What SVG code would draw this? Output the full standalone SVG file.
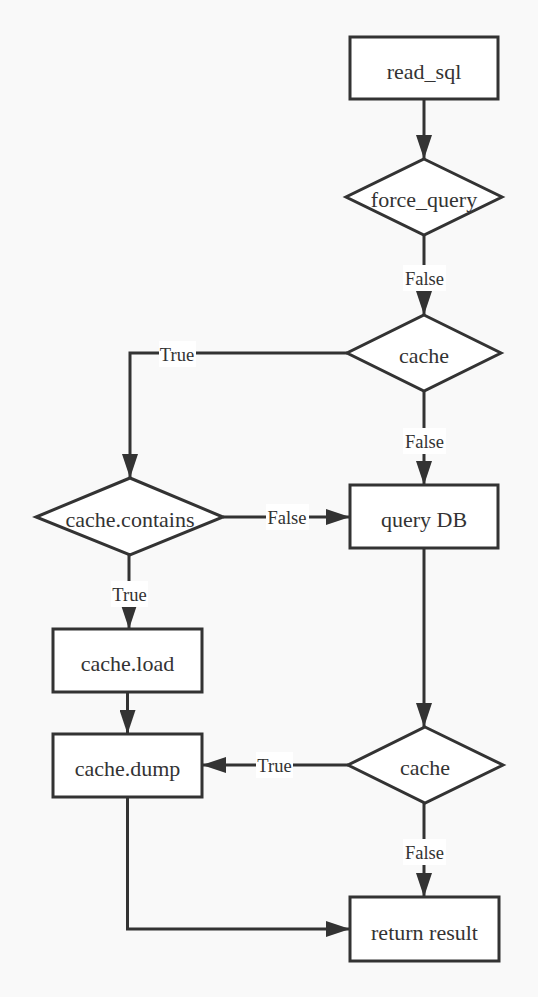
<svg xmlns="http://www.w3.org/2000/svg" width="538" height="997" viewBox="0 0 538 997">
<style>
.n{fill:#ffffff;stroke:#333333;stroke-width:3}
.t{font-family:"Liberation Serif","Times New Roman",serif;font-size:22px;fill:#333333;text-anchor:middle}
.e{fill:none;stroke:#333333;stroke-width:3}
.lb{fill:#ffffff}
.lt{font-family:"Liberation Serif","Times New Roman",serif;font-size:18.5px;fill:#333333;text-anchor:middle}
</style>
<defs>
<marker id="arr" markerUnits="userSpaceOnUse" markerWidth="24" markerHeight="16" refX="24" refY="8" orient="auto">
<path d="M0,0 L24,8 L0,16 z" fill="#333333"/>
</marker>
</defs>
<rect width="538" height="997" fill="#f9f9f9"/>
<g id="connectors">
<path class="e" d="M424,99 V159" marker-end="url(#arr)"/>
<path class="e" d="M424,235 V315" marker-end="url(#arr)"/>
<path class="e" d="M347,353 H130 V478" marker-end="url(#arr)"/>
<path class="e" d="M424,391 V485" marker-end="url(#arr)"/>
<path class="e" d="M223,517 H350" marker-end="url(#arr)"/>
<path class="e" d="M129,555 V629" marker-end="url(#arr)"/>
<path class="e" d="M127.5,692 V734" marker-end="url(#arr)"/>
<path class="e" d="M424,548 V727" marker-end="url(#arr)"/>
<path class="e" d="M348,765 H202" marker-end="url(#arr)"/>
<path class="e" d="M424,803 V897" marker-end="url(#arr)"/>
<path class="e" d="M127.5,797 V929 H350" marker-end="url(#arr)"/>
<g id="labels">
<rect class="lb" x="403" y="265" width="43" height="26"/><text class="lt" x="424.5" y="285">False</text>
<rect class="lb" x="159" y="341" width="37" height="26"/><text class="lt" x="177" y="361">True</text>
<rect class="lb" x="403" y="428" width="43" height="26"/><text class="lt" x="424.5" y="448">False</text>
<rect class="lb" x="266" y="504" width="43" height="26"/><text class="lt" x="287" y="524">False</text>
<rect class="lb" x="111" y="581" width="37" height="26"/><text class="lt" x="129.5" y="601">True</text>
<rect class="lb" x="256" y="752" width="37" height="26"/><text class="lt" x="274.5" y="772">True</text>
<rect class="lb" x="403" y="839" width="43" height="26"/><text class="lt" x="424.5" y="859">False</text>
</g>
</g>
<g id="read_sql"><rect class="n" x="350" y="37" width="148" height="62"/><text class="t" x="424" y="79">read_sql</text></g>
<g id="force_query"><polygon class="n" points="424,159 502,197 424,235 346,197"/><text class="t" x="424" y="207">force_query</text></g>
<g id="cache1"><polygon class="n" points="424,315 501,353 424,391 347,353"/><text class="t" x="424" y="363">cache</text></g>
<g id="query_db"><rect class="n" x="350" y="485" width="148" height="63"/><text class="t" x="424" y="527">query DB</text></g>
<g id="cache_contains"><polygon class="n" points="130,478 223,517 130,555 36,517"/><text class="t" x="130" y="527">cache.contains</text></g>
<g id="cache_load"><rect class="n" x="53" y="629" width="149" height="63"/><text class="t" x="127.5" y="671">cache.load</text></g>
<g id="cache_dump"><rect class="n" x="53" y="734" width="149" height="63"/><text class="t" x="127.5" y="776">cache.dump</text></g>
<g id="cache2"><polygon class="n" points="425,727 503,765 425,803 348,765"/><text class="t" x="425" y="775">cache</text></g>
<g id="return_result"><rect class="n" x="350" y="897" width="149" height="64"/><text class="t" x="424.5" y="940">return result</text></g>
</svg>
